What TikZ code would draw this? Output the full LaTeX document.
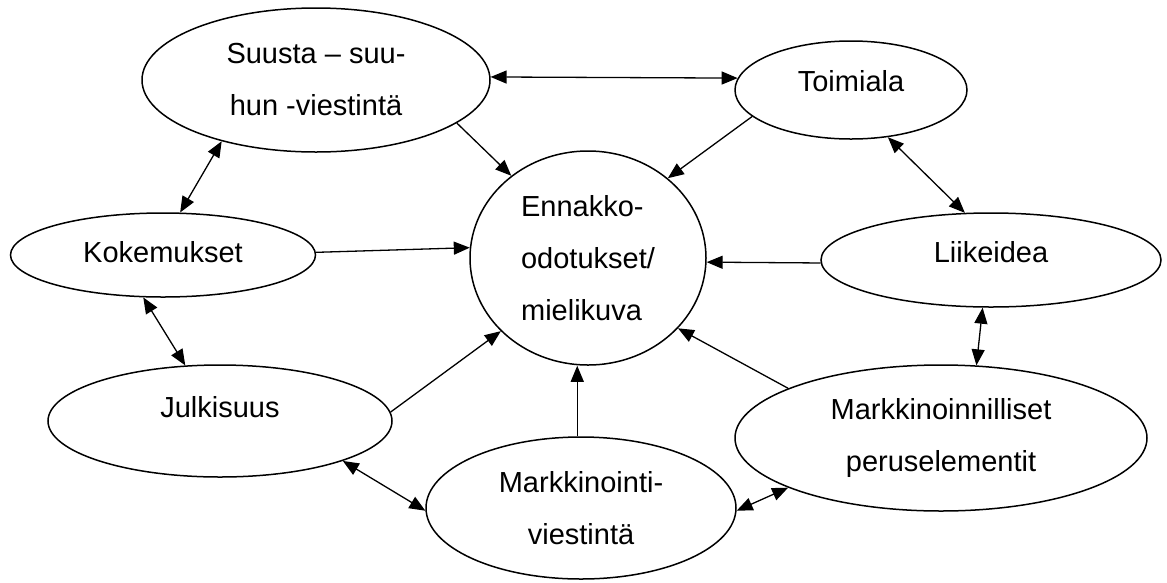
\documentclass[tikz,border=0pt]{standalone}
\usepackage{fontspec}
\setmainfont{Liberation Sans}
\usetikzlibrary{arrows.meta,shapes.geometric}
\tikzset{
  bubble/.style={ellipse, draw, line width=1.5pt, inner sep=0pt, align=center,
    font=\fontsize{29}{52}\selectfont},
  link/.style={line width=1.3pt, -{Triangle[length=16pt,width=13pt]}},
  twoway/.style={line width=1.3pt, {Triangle[length=16pt,width=13pt]}-{Triangle[length=16pt,width=13pt]}}
}

\begin{document}
\begin{tikzpicture}[x=1pt, y=-1pt]
\useasboundingbox (0,0) rectangle (1167,582);
% the bubbles
\node[bubble, minimum width=236pt, minimum height=214pt, align=left] (ennakko) at (588,258) {Ennakko-\\odotukset/\\mielikuva};
\node[bubble, minimum width=348pt, minimum height=144pt] (suusta) at (316,80) {Suusta -- suu-\\hun -viestintä};
\node[bubble, minimum width=232pt, minimum height=98pt, text depth=18pt] (toimiala) at (851,90) {Toimiala};
\node[bubble, minimum width=305pt, minimum height=84pt, text depth=6pt] (koke) at (163,255) {Kokemukset};
\node[bubble, minimum width=340pt, minimum height=94pt, text depth=16pt] (liike) at (991,260) {Liikeidea};
\node[bubble, minimum width=344pt, minimum height=112pt, text depth=28pt] (julk) at (220,421) {Julkisuus};
\node[bubble, minimum width=412pt, minimum height=146pt] (markk) at (941,438) {Markkinoinnilliset\\peruselementit};
\node[bubble, minimum width=310pt, minimum height=142pt] (mviest) at (581,508) {Markkinointi-\\viestintä};
% into the middle
\draw[link] (suusta.343) -- (ennakko.133);
\draw[link] (toimiala.195) -- (ennakko.45);
\draw[link] (koke.1.5) -- (ennakko.175);
\draw[link] (liike.181) -- (ennakko.358);
\draw[link] (julk.3.7) -- (ennakko.220);
\draw[link] (markk.162) -- (ennakko.322);
\draw[link] (mviest.93) -- (mviest.93 |- ennakko.south);
% both ways round the ring
\draw[twoway] (suusta.1) -- (toimiala.174);
\draw[twoway] (toimiala.308) -- (liike.119);
\draw[twoway] (liike.260) -- (markk.64);
\draw[twoway] (markk.198) -- (mviest.359);
\draw[twoway] (mviest.181) -- (julk.342);
\draw[twoway] (julk.122) -- (koke.245);
\draw[twoway] (koke.68) -- (suusta.213);
\end{tikzpicture}
\end{document}
